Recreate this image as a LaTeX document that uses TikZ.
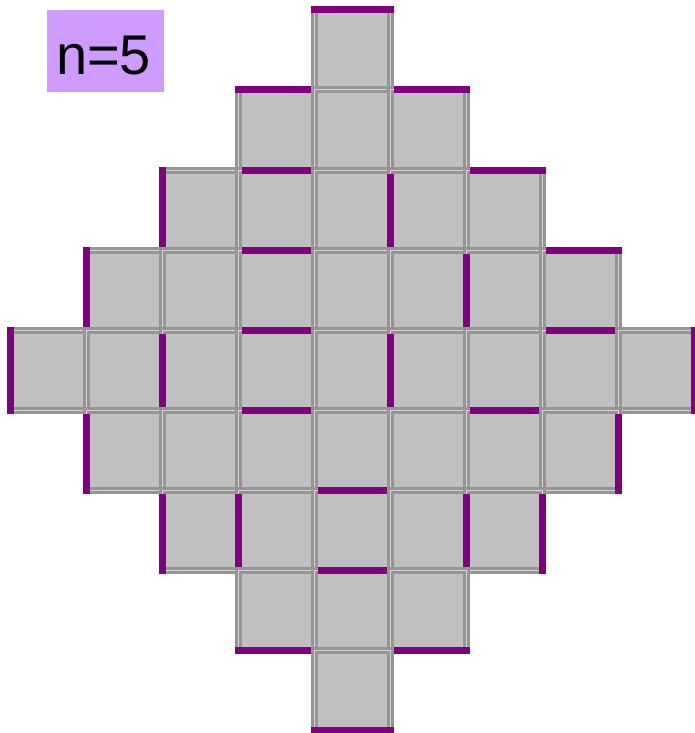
\documentclass[tikz,border=0pt]{standalone}
\usepackage{fontspec}
\setmainfont{Liberation Sans}
\definecolor{cellfill}{RGB}{192,192,192}
\definecolor{cellgray}{RGB}{149,149,149}
\definecolor{celllight}{RGB}{212,212,212}
\definecolor{wallpurple}{RGB}{128,0,128}
\definecolor{labelpurple}{RGB}{207,155,255}
\begin{document}
\begin{tikzpicture}[x=1pt,y=-1pt,
  cell/.style={rectangle, fill=cellfill, draw=cellgray, line width=3pt,
    double=celllight, double distance=1pt, inner sep=0pt, outer sep=0pt,
    minimum width=76pt, minimum height=80pt},
  wall/.style={draw=wallpurple, line width=7pt},
  EE/.style={shorten <=-3.5pt, shorten >=-3.5pt},
  ES/.style={shorten <=-3.5pt, shorten >=3.5pt},
  SE/.style={shorten <=3.5pt, shorten >=-3.5pt},
  SS/.style={shorten <=3.5pt, shorten >=3.5pt},
  labelbox/.style={rectangle, fill=labelpurple, inner sep=0pt, outer sep=0pt,
    minimum width=117pt, minimum height=82pt},
  labeltext/.style={anchor=base, inner sep=0pt, font=\fontsize{56}{56}\selectfont}]
\useasboundingbox (0,0) rectangle (695,733);
% cells
\foreach \i in {0,...,8}{
  \pgfmathtruncatemacro\d{abs(\i-4)}
  \pgfmathtruncatemacro\e{8-\d}
  \foreach \j in {\d,...,\e}{
    \node[cell] (q-\i-\j) at (48.5+76*\j, 50+80*\i) {};
  }
}
% horizontal walls
\draw[wall,EE] (q-0-4.north west) -- (q-0-4.north east);
\draw[wall,ES] (q-1-3.north west) -- (q-1-3.north east);
\draw[wall,SE] (q-1-5.north west) -- (q-1-5.north east);
\draw[wall,SS] (q-2-3.north west) -- (q-2-3.north east);
\draw[wall,SE] (q-2-6.north west) -- (q-2-6.north east);
\draw[wall,SS] (q-3-3.north west) -- (q-3-3.north east);
\draw[wall,SE] (q-3-7.north west) -- (q-3-7.north east);
\draw[wall,SS] (q-4-3.north west) -- (q-4-3.north east);
\draw[wall,SS] (q-4-7.north west) -- (q-4-7.north east);
\draw[wall,SS] (q-5-3.north west) -- (q-5-3.north east);
\draw[wall,SS] (q-5-6.north west) -- (q-5-6.north east);
\draw[wall,SS] (q-6-4.north west) -- (q-6-4.north east);
\draw[wall,SS] (q-7-4.north west) -- (q-7-4.north east);
\draw[wall,ES] (q-7-3.south west) -- (q-7-3.south east);
\draw[wall,SE] (q-7-5.south west) -- (q-7-5.south east);
\draw[wall,EE] (q-8-4.south west) -- (q-8-4.south east);
% vertical walls
\draw[wall,EE] (q-4-0.north west) -- (q-4-0.south west);
\draw[wall,ES] (q-3-1.north west) -- (q-3-1.south west);
\draw[wall,SE] (q-5-1.north west) -- (q-5-1.south west);
\draw[wall,ES] (q-2-2.north west) -- (q-2-2.south west);
\draw[wall,SS] (q-4-2.north west) -- (q-4-2.south west);
\draw[wall,SE] (q-6-2.north west) -- (q-6-2.south west);
\draw[wall,SS] (q-6-3.north west) -- (q-6-3.south west);
\draw[wall,SS] (q-2-5.north west) -- (q-2-5.south west);
\draw[wall,SS] (q-4-5.north west) -- (q-4-5.south west);
\draw[wall,SS] (q-3-6.north west) -- (q-3-6.south west);
\draw[wall,SS] (q-6-6.north west) -- (q-6-6.south west);
\draw[wall,SE] (q-6-6.north east) -- (q-6-6.south east);
\draw[wall,SE] (q-5-7.north east) -- (q-5-7.south east);
\draw[wall,EE] (q-4-8.north east) -- (q-4-8.south east);
% label
\node[labelbox] (lbl) at (105.5, 51) {};
\node[labeltext] (lbltxt) at (103.5, 75) {n=5};
\end{tikzpicture}
\end{document}
